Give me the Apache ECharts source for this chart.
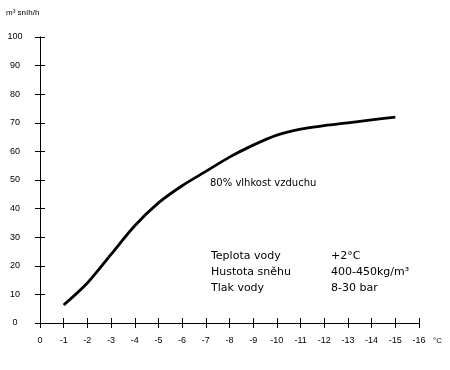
<!DOCTYPE html>
<html>
<head>
<meta charset="utf-8">
<script src="https://cdn.jsdelivr.net/npm/echarts@6/dist/echarts.min.js"></script>
<style>
html,body{margin:0;padding:0;background:#fff;}
#chart{width:450px;height:370px;}
</style>
</head>
<body>
<div id="chart"></div>
<script>
var temperatures = [-1, -2, -3, -4, -5, -6, -7, -8, -9, -10, -11, -12, -13, -14, -15];
var snowOutput = [6.3, 14, 24, 34, 42, 48, 53, 58, 62.2, 65.7, 67.8, 69, 70, 71, 72];
var yAxisTitle = 'm³ sníh/h';
var xAxisUnit = '°C';
var humidityNote = '80% vlhkost vzduchu';
var paramNames = ['Teplota vody', 'Hustota sněhu', 'Tlak vody'];
var paramValues = ['+2°C', '400-450kg/m³', '8-30 bar'];

var font = 'Liberation Sans';
var textFont = 'DejaVu Sans';
var chart = echarts.init(document.getElementById('chart'));
var axisLineStyle = {color: '#000', width: 1};
var graphics = [
  {type: 'text', left: 210, top: 178, style: {text: humidityNote, font: '10px ' + textFont, fill: '#000'}}
];
paramNames.forEach(function (n, i) {
  graphics.push({type: 'text', left: 211, top: 251 + i * 16, style: {text: n, font: '11px ' + textFont, fill: '#000'}});
  graphics.push({type: 'text', left: 331, top: 251 + i * 16, style: {text: paramValues[i], font: '11px ' + textFont, fill: '#000'}});
});
graphics.push({type: 'text', left: 6, top: 9, style: {text: yAxisTitle, font: '8px ' + font, fill: '#000'}});
graphics.push({type: 'text', left: 433, top: 337, style: {text: xAxisUnit, font: '8px ' + font, fill: '#000'}});

chart.setOption({
  animation: false,
  backgroundColor: '#fff',
  grid: {left: 40, right: 31, top: 37, bottom: 47},
  xAxis: [{
    type: 'value', min: -16, max: 0, interval: 1, inverse: true, position: 'bottom',
    axisLine: {lineStyle: axisLineStyle}, splitLine: {show: false},
    axisTick: {show: true, length: 5, lineStyle: axisLineStyle},
    axisLabel: {color: '#000', fontSize: 9, fontFamily: font, margin: 13}
  }, {
    type: 'value', min: -16, max: 0, interval: 1, inverse: true, position: 'bottom', offset: 0,
    axisLine: {show: true, lineStyle: axisLineStyle}, splitLine: {show: false},
    axisTick: {show: true, inside: true, length: 5, lineStyle: axisLineStyle},
    axisLabel: {show: false}
  }],
  yAxis: [{
    type: 'value', min: 0, max: 100, interval: 10, position: 'left',
    axisLine: {show: true, lineStyle: axisLineStyle}, splitLine: {show: false},
    axisTick: {show: true, length: 5, lineStyle: axisLineStyle},
    axisLabel: {color: '#000', fontSize: 9, fontFamily: font, margin: 25, align: 'center'}
  }, {
    type: 'value', min: 0, max: 100, interval: 10, position: 'left', offset: 0,
    axisLine: {show: true, lineStyle: axisLineStyle}, splitLine: {show: false},
    axisTick: {show: true, inside: true, length: 5, lineStyle: axisLineStyle},
    axisLabel: {show: false}
  }],
  series: [{
    type: 'line', xAxisIndex: 0, yAxisIndex: 0,
    data: temperatures.map(function (t, i) { return [t, snowOutput[i]]; }),
    smooth: 0.3, showSymbol: false, symbol: 'none',
    lineStyle: {color: '#000', width: 2.8}
  }],
  graphic: graphics
});
</script>
</body>
</html>
